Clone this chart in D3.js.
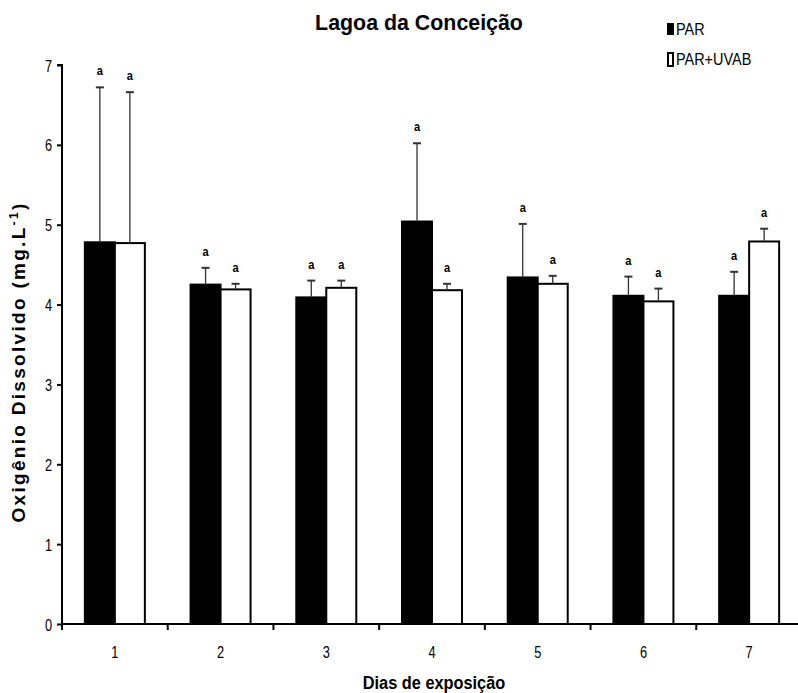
<!DOCTYPE html>
<html>
<head>
<meta charset="utf-8">
<script src="https://cdn.jsdelivr.net/npm/d3@7"></script>
<style>
body { margin: 0; background: #fff; }
text { font-family: "Liberation Sans Narrow", "Arial Narrow", "Liberation Sans", sans-serif; }
</style>
</head>
<body>
<div id="chart"></div>
<script>
var w = 798, h = 693;

var days = ["1", "2", "3", "4", "5", "6", "7"];
var series = ["PAR", "PAR+UVAB"];
var parMean = [4.78, 4.25, 4.09, 5.04, 4.34, 4.11, 4.11];
var parErr = [1.94, 0.21, 0.21, 0.98, 0.67, 0.24, 0.30];
var uvMean = [4.77, 4.19, 4.21, 4.18, 4.26, 4.04, 4.79];
var uvErr = [1.89, 0.07, 0.09, 0.08, 0.10, 0.16, 0.16];
var letters = ["a", "a", "a", "a", "a", "a", "a"];
var yTicks = [0, 1, 2, 3, 4, 5, 6, 7];

var svg = d3.select("#chart").append("svg").attr("width", w).attr("height", h);

// narrow text: squeeze horizontally around the anchor point
function narrow(sel, px, py, k) {
  return sel.attr("transform", "translate(" + px + "," + py + ") scale(" + k + ",1)");
}

var x = d3.scaleBand().domain(days).range([62, 802]);
var sub = d3.scaleBand().domain(series).range([x.bandwidth() / 2 - 30, x.bandwidth() / 2 + 30]);
var y = d3.scaleLinear().domain([0, 7]).range([624, 65]);

var data = [];
days.forEach(function (d, i) {
  data.push({day: d, s: "PAR", v: parMean[i], e: parErr[i], l: letters[i]});
  data.push({day: d, s: "PAR+UVAB", v: uvMean[i], e: uvErr[i], l: letters[i]});
});

// y axis
var yAxis = svg.append("g").attr("transform", "translate(62,0)")
  .call(d3.axisLeft(y).tickValues(yTicks).tickSize(5).tickPadding(6).tickFormat(d3.format("d")));
yAxis.select(".domain").attr("stroke-width", 2).attr("d", "M-5,65H0V624");
yAxis.selectAll(".tick line").attr("stroke-width", 2);
yAxis.selectAll(".tick text").style("font-size", "16px").attr("fill", "#000")
  .attr("x", null).attr("dy", null).attr("y", 6)
  .attr("transform", "translate(-10,0) scale(0.8,1)");

// x axis with ticks at band edges
var xAxis = svg.append("g").attr("transform", "translate(0,624)");
xAxis.append("line").attr("x1", 62).attr("x2", 802).attr("stroke", "#000").attr("stroke-width", 2);
xAxis.selectAll(".edge").data(days).enter().append("line")
  .attr("x1", function (d) { return x(d); }).attr("x2", function (d) { return x(d); })
  .attr("y1", 0).attr("y2", 6).attr("stroke", "#000").attr("stroke-width", 2);
xAxis.selectAll(".lab").data(days).enter().append("text")
  .attr("transform", function (d) { return "translate(" + (x(d) + x.bandwidth() / 2) + ",34) scale(0.8,1)"; })
  .attr("text-anchor", "middle").style("font-size", "16px").text(function (d) { return d; });

// bars
var g = svg.append("g");
g.selectAll("rect").data(data).enter().append("rect")
  .attr("x", function (d) { return x(d.day) + sub(d.s); })
  .attr("y", function (d) { return y(d.v); })
  .attr("width", sub.bandwidth())
  .attr("height", function (d) { return y(0) - y(d.v); })
  .attr("fill", function (d) { return d.s == "PAR" ? "#000" : "#fff"; })
  .attr("stroke", "#000").attr("stroke-width", 2);

// error bars
var eb = g.selectAll(".err").data(data).enter().append("g");
eb.append("line")
  .attr("x1", function (d) { return x(d.day) + sub(d.s) + sub.bandwidth() / 2; })
  .attr("x2", function (d) { return x(d.day) + sub(d.s) + sub.bandwidth() / 2; })
  .attr("y1", function (d) { return y(d.v); })
  .attr("y2", function (d) { return y(d.v + d.e); })
  .attr("stroke", "#333").attr("stroke-width", 1.3);
eb.append("line")
  .attr("x1", function (d) { return x(d.day) + sub(d.s) + sub.bandwidth() / 2 - 4; })
  .attr("x2", function (d) { return x(d.day) + sub(d.s) + sub.bandwidth() / 2 + 4; })
  .attr("y1", function (d) { return y(d.v + d.e); })
  .attr("y2", function (d) { return y(d.v + d.e); })
  .attr("stroke", "#333").attr("stroke-width", 2);
eb.append("text")
  .attr("transform", function (d) {
    return "translate(" + (x(d.day) + sub(d.s) + sub.bandwidth() / 2) + "," + (y(d.v + d.e) - 12) + ") scale(0.85,1)";
  })
  .attr("text-anchor", "middle").style("font-size", "13px").style("font-weight", "bold")
  .text(function (d) { return d.l; });

// title
narrow(svg.append("text"), 419, 30, 0.93).attr("text-anchor", "middle")
  .style("font-size", "23px").style("font-weight", "bold").text("Lagoa da Conceição");

// legend
var leg = svg.append("g");
series.forEach(function (s, i) {
  leg.append("rect").attr("x", 668).attr("y", 24 + i * 29).attr("width", 5).attr("height", 10 + i * 3)
    .attr("fill", i == 0 ? "#000" : "#fff").attr("stroke", "#000").attr("stroke-width", 2);
  narrow(leg.append("text"), 676, 35 + i * 30, 0.85).style("font-size", "17px").text(s);
});

// axis titles
narrow(svg.append("text"), 434, 689, 0.86).attr("text-anchor", "middle")
  .style("font-size", "19px").style("font-weight", "bold").text("Dias de exposição");

var yt = svg.append("text").attr("transform", "translate(25,362) rotate(-90)").attr("text-anchor", "middle")
  .style("font-family", "'Liberation Sans', Arial, sans-serif")
  .style("font-size", "19px").style("font-weight", "bold").style("letter-spacing", "2.3px");
yt.append("tspan").text("Oxigênio Dissolvido (mg.L");
yt.append("tspan").attr("dy", -7).style("font-size", "12px").text("-1");
yt.append("tspan").attr("dy", 7).text(")");
</script>
</body>
</html>
